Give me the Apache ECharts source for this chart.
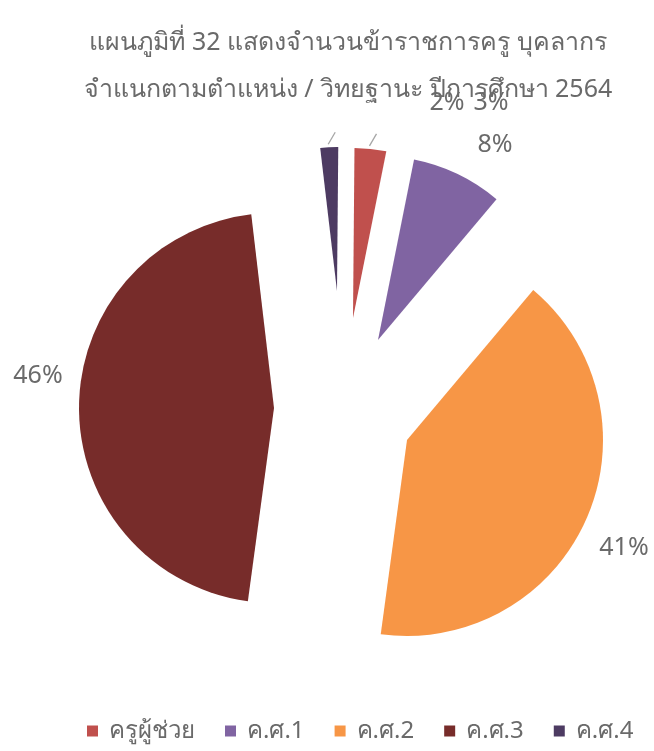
<!DOCTYPE html>
<html>
<head>
<meta charset="utf-8">
<script src="https://cdn.jsdelivr.net/npm/echarts@6/dist/echarts.min.js"></script>
<style>
  html, body { margin: 0; padding: 0; background: #ffffff; }
  #chart { width: 654px; height: 751px; }
</style>
</head>
<body>
<div id="chart"></div>
<script>
// Teachers and staff by position / academic rank, academic year 2564 (percent)
const categories = ['ครูผู้ช่วย', 'ค.ศ.1', 'ค.ศ.2', 'ค.ศ.3', 'ค.ศ.4'];
const values = [3, 8, 41, 46, 2];
const colors = ['#C0504D', '#8064A2', '#F79646', '#772C2A', '#4D3B62'];
const titleLines = ['แผนภูมิที่ 32 แสดงจำนวนข้าราชการครู บุคลากร', 'จำแนกตามตำแหน่ง / วิทยฐานะ ปีการศึกษา 2564'];

// Each slice is pulled out on its own: centre and radius per slice
const sliceCenters = [[353, 318], [378, 340], [407, 440], [274, 408], [337, 291]];
const sliceRadii = [170, 184, 196, 195, 144];
// Where each percentage label sits
const labelSpots = [[491, 103], [495, 145], [624, 548], [38, 376], [447, 103]];
// Slices that get a short leader stroke
const withLeader = [true, false, false, false, true];

const FONT = '"Noto Sans", "Leelawadee UI", Tahoma, sans-serif';
const TEXT_COLOR = '#6a6a6a';

const series = categories.map(function (cat, i) {
  return {
    type: 'pie',
    name: cat,
    center: sliceCenters[i],
    radius: [0, sliceRadii[i]],
    startAngle: 89.5,
    clockwise: true,
    avoidLabelOverlap: false,
    animation: false,
    emphasis: { disabled: true },
    data: categories.map(function (name, j) {
      const own = j === i;
      return {
        name: name,
        value: values[j],
        itemStyle: { color: own ? colors[j] : 'rgba(0,0,0,0)' },
        label: { show: own },
        labelLine: { show: own && withLeader[j] }
      };
    }),
    label: {
      position: 'outside',
      formatter: '{c}%',
      color: TEXT_COLOR,
      fontFamily: FONT,
      fontSize: 25
    },
    labelLine: {
      length: 8,
      length2: 0,
      lineStyle: { color: '#a6a6a6', width: 1.3 }
    },
    labelLayout: function (params) {
      const k = params.dataIndex;
      const out = {
        x: labelSpots[k][0],
        y: labelSpots[k][1],
        align: 'center',
        verticalAlign: 'middle'
      };
      if (withLeader[k] && params.labelLinePoints) {
        const p = params.labelLinePoints[0];
        out.labelLinePoints = [[p[0] - 1, p[1] - 3], [p[0] + 6, p[1] - 15]];
      }
      return out;
    }
  };
});

const chart = echarts.init(document.getElementById('chart'), null, { renderer: 'canvas' });
chart.setOption({
  backgroundColor: '#ffffff',
  title: [
    { text: titleLines[0], left: 343, top: 25, textAlign: 'center',
      textStyle: { fontFamily: FONT, fontSize: 25, fontWeight: 'normal', color: TEXT_COLOR } },
    { text: titleLines[1], left: 343, top: 72, textAlign: 'center',
      textStyle: { fontFamily: FONT, fontSize: 25, fontWeight: 'normal', color: TEXT_COLOR } }
  ],
  legend: {
    top: 714,
    left: 82,
    itemWidth: 11,
    itemHeight: 11,
    itemGap: 30,
    icon: 'rect',
    selectedMode: false,
    textStyle: { fontFamily: FONT, fontSize: 24, color: TEXT_COLOR, padding: [0, 0, 0, 6] },
    data: categories.map(function (name, i) {
      return { name: name, itemStyle: { color: colors[i] } };
    })
  },
  series: series
});
</script>
</body>
</html>
